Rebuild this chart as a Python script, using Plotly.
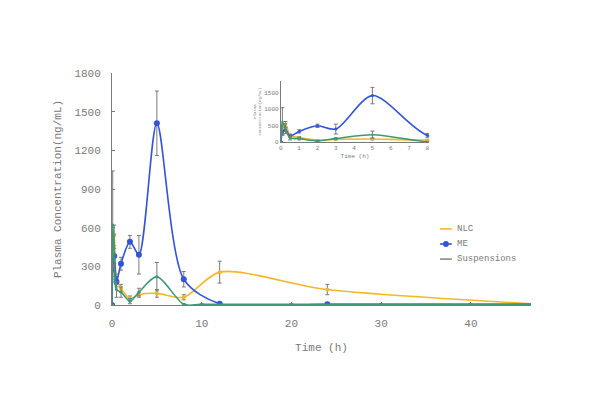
import plotly.graph_objects as go

# Data
t_nlc = [0, 0.083, 0.25, 0.5, 1, 2, 3, 5, 8, 12, 24, 48]
nlc = [0, 450, 540, 200, 130, 50, 80, 90, 60, 255, 120, 5]
nlc_err = [0, 60, 80, 40, 30, 20, 20, 30, 20, 85, 40, 5]

t_me = [0, 0.083, 0.25, 0.5, 1, 2, 3, 5, 8, 12, 24, 48]
me = [0, 280, 380, 180, 320, 490, 390, 1410, 200, 10, 5, 5]
me_err = [0, 60, 60, 40, 50, 50, 150, 250, 60, 5, 5, 5]

t_su = [0, 0.083, 0.25, 0.5, 1, 2, 3, 5, 8, 10, 20, 30, 40, 48]
su = [0, 620, 400, 120, 100, 30, 100, 220, 5, 5, 5, 5, 5, 5]
su_err = [0, 420, 150, 60, 40, 20, 30, 110, 5, 5, 5, 5, 5, 5]

series_names = ["NLC", "ME", "Suspensions"]

c_nlc = "#F2B827"
c_me = "#3553D6"
c_su = "#3E9A72"
grey = "#7a7a7a"
font = "Liberation Mono"

fig = go.Figure()

def add(t, y, e, name, color, size, xa, ya):
    fig.add_trace(go.Scatter(
        x=t, y=y, name=name, mode="lines+markers",
        line=dict(color=color, width=1.6, shape="spline", smoothing=0.8),
        marker=dict(color=color, size=size),
        error_y=dict(type="data", array=e, color=grey, thickness=1, width=2),
        xaxis=xa, yaxis=ya, showlegend=False, cliponaxis=True))

add(t_nlc, nlc, nlc_err, "NLC", c_nlc, 4, "x", "y")
add(t_me, me, me_err, "ME", c_me, 6, "x", "y")
add(t_su, su, su_err, "Suspensions", c_su, 3, "x", "y")

add(t_nlc, nlc, nlc_err, "NLC", c_nlc, 3, "x2", "y2")
add(t_me, me, me_err, "ME", c_me, 3, "x2", "y2")
add(t_su, su, su_err, "Suspensions", c_su, 2, "x2", "y2")

# compact legend (drawn in paper coordinates)
leg_colors = [c_nlc, c_me, "#8a8a8a"]
leg_y = [0.328, 0.263, 0.198]
shapes = []
annotations = []
for name, col, yy in zip(series_names, leg_colors, leg_y):
    shapes.append(dict(type="line", xref="paper", yref="paper", x0=0.783, x1=0.811,
                       y0=yy, y1=yy, line=dict(color=col, width=1.6)))
    annotations.append(dict(xref="paper", yref="paper", x=0.819, y=yy, text=name,
                            showarrow=False, xanchor="left", yanchor="middle",
                            font=dict(size=9, family=font, color=grey)))
shapes.append(dict(type="circle", xref="paper", yref="paper", x0=0.790, x1=0.804,
                   y0=0.250, y1=0.276, fillcolor=c_me, line=dict(color=c_me, width=0)))

fig.update_layout(
    width=600, height=400,
    margin=dict(l=104, r=77, t=65, b=103),
    paper_bgcolor="white", plot_bgcolor="white",
    font=dict(family=font, color=grey, size=11),
    showlegend=False,
    shapes=shapes, annotations=annotations,
    xaxis=dict(range=[0, 46.7], tickvals=[0, 10, 20, 30, 40], showline=True,
               linecolor=grey, ticks="inside", ticklen=3, tickcolor=grey,
               ticklabelstandoff=8, showgrid=False, zeroline=False,
               automargin=False,
               title=dict(text="Time (h)", font=dict(size=11), standoff=14),
               domain=[0, 1]),
    yaxis=dict(range=[0, 1800], tickvals=[0, 300, 600, 900, 1200, 1500, 1800],
               showline=True, linecolor=grey, ticks="inside", ticklen=3, tickcolor=grey,
               ticklabelstandoff=8, showgrid=False, zeroline=False,
               automargin=False,
               title=dict(text="Plasma Concentration(ng/mL)", font=dict(size=11), standoff=10),
               domain=[0, 1]),
    xaxis2=dict(range=[0, 8.1], domain=[0.403, 0.757], anchor="y2",
                tickvals=list(range(9)), showline=True, linecolor=grey, ticks="",
                showgrid=False, zeroline=False, tickfont=dict(size=6), automargin=False,
                title=dict(text="Time (h)", font=dict(size=6), standoff=2)),
    yaxis2=dict(range=[0, 1850], domain=[0.703, 0.965], anchor="x2",
                tickvals=[0, 500, 1000, 1500], showline=True, linecolor=grey, ticks="",
                showgrid=False, zeroline=False, tickfont=dict(size=6), automargin=False,
                title=dict(text="Plasma<br>Concentration(ng/mL)", font=dict(size=4), standoff=2)),
)

fig.write_html("out.html")
